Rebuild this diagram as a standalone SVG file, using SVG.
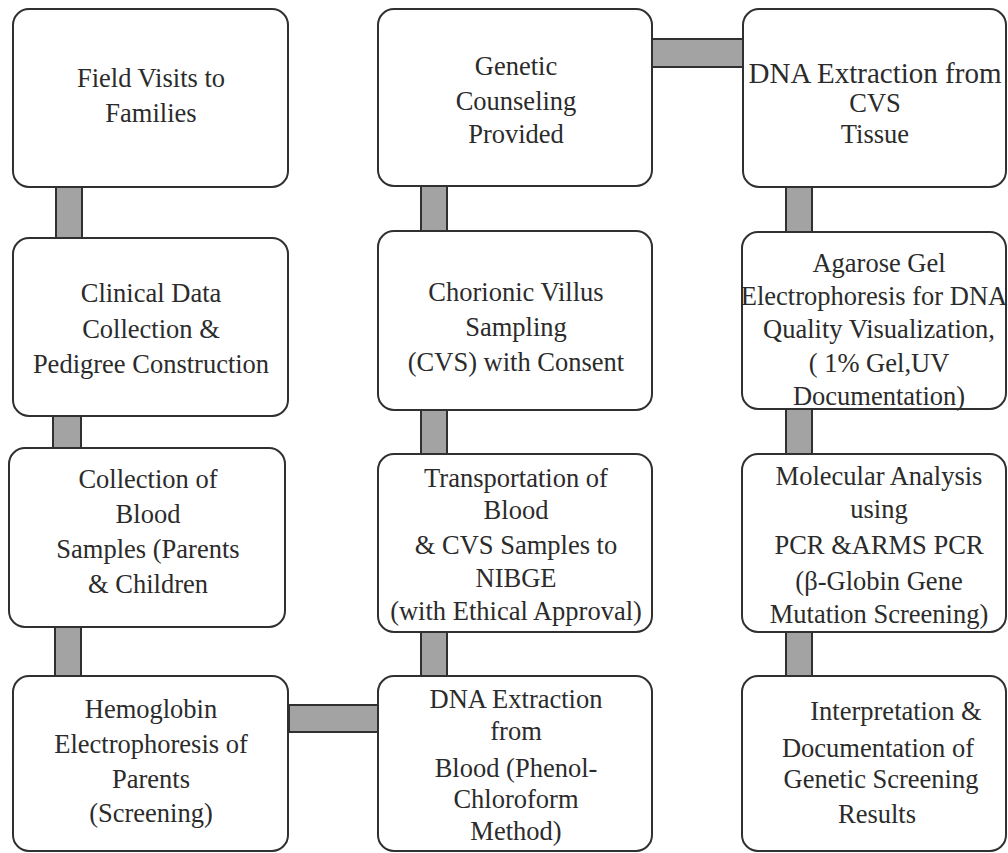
<svg xmlns="http://www.w3.org/2000/svg" width="1008" height="853" viewBox="0 0 1008 853">
<style>
.box{fill:#ffffff;stroke:#303030;stroke-width:2}
.conn{fill:#a3a3a3;stroke:#303030;stroke-width:2}
text{font-family:"Liberation Serif","Times New Roman",serif;font-size:26.5px;fill:#2b2b2b;text-anchor:middle}
</style>
<rect width="1008" height="853" fill="#ffffff"/>
<g id="connectors">
<rect class="conn" x="56" y="187" width="26" height="51"/>
<rect class="conn" x="53" y="416" width="28" height="32"/>
<rect class="conn" x="55" y="627" width="26" height="49"/>
<rect class="conn" x="289" y="705" width="89" height="27"/>
<rect class="conn" x="421" y="186" width="26" height="45"/>
<rect class="conn" x="421" y="410" width="26" height="44"/>
<rect class="conn" x="421" y="632" width="26" height="44"/>
<rect class="conn" x="652" y="39" width="91" height="28"/>
<rect class="conn" x="786" y="187" width="26" height="45"/>
<rect class="conn" x="786" y="409" width="26" height="45"/>
<rect class="conn" x="786" y="632" width="26" height="44"/>
</g>
<g id="n1">
<rect class="box" x="13" y="9" width="275" height="178" rx="16"/>
<text x="151" y="87">Field Visits to</text>
<text x="151" y="122">Families</text>
</g>
<g id="n2">
<rect class="box" x="13" y="238" width="275" height="178" rx="16"/>
<text x="151" y="302">Clinical Data</text>
<text x="151" y="338">Collection &amp;</text>
<text x="151" y="373">Pedigree Construction</text>
</g>
<g id="n3">
<rect class="box" x="9" y="448" width="276" height="179" rx="16"/>
<text x="148" y="488">Collection of</text>
<text x="148" y="523">Blood</text>
<text x="148" y="558">Samples (Parents</text>
<text x="148" y="593">&amp; Children</text>
</g>
<g id="n4">
<rect class="box" x="13" y="676" width="275" height="175" rx="16"/>
<text x="151" y="718">Hemoglobin</text>
<text x="151" y="753">Electrophoresis of</text>
<text x="151" y="788">Parents</text>
<text x="151" y="822">(Screening)</text>
</g>
<g id="n5">
<rect class="box" x="378" y="9" width="274" height="177" rx="16"/>
<text x="516" y="75">Genetic</text>
<text x="516" y="110">Counseling</text>
<text x="516" y="143">Provided</text>
</g>
<g id="n6">
<rect class="box" x="378" y="231" width="274" height="179" rx="16"/>
<text x="516" y="301">Chorionic Villus</text>
<text x="516" y="336">Sampling</text>
<text x="516" y="371">(CVS) with Consent</text>
</g>
<g id="n7">
<rect class="box" x="378" y="454" width="274" height="178" rx="16"/>
<text x="516" y="487">Transportation of</text>
<text x="516" y="519">Blood</text>
<text x="516" y="554">&amp; CVS Samples to</text>
<text x="516" y="587">NIBGE</text>
<text x="516" y="620">(with Ethical Approval)</text>
</g>
<g id="n8">
<rect class="box" x="378" y="676" width="274" height="175" rx="16"/>
<text x="516" y="708">DNA Extraction</text>
<text x="516" y="740">from</text>
<text x="516" y="777">Blood (Phenol-</text>
<text x="516" y="808">Chloroform</text>
<text x="516" y="840">Method)</text>
</g>
<g id="n9">
<rect class="box" x="743" y="9" width="263" height="178" rx="16"/>
<text x="875" y="83" style="font-size:29px">DNA Extraction from</text>
<text x="875" y="112">CVS</text>
<text x="875" y="143">Tissue</text>
</g>
<g id="n10">
<rect class="box" x="742" y="232" width="264" height="177" rx="16"/>
<text x="879" y="272">Agarose Gel</text>
<text x="874" y="305">Electrophoresis for DNA</text>
<text x="879" y="338">Quality Visualization,</text>
<text x="879" y="372">( 1% Gel,UV</text>
<text x="879" y="405">Documentation)</text>
</g>
<g id="n11">
<rect class="box" x="742" y="454" width="264" height="178" rx="16"/>
<text x="879" y="485">Molecular Analysis</text>
<text x="879" y="518">using</text>
<text x="879" y="554">PCR &amp;ARMS PCR</text>
<text x="879" y="590">(β-Globin Gene</text>
<text x="879" y="623">Mutation Screening)</text>
</g>
<g id="n12">
<rect class="box" x="742" y="676" width="264" height="175" rx="16"/>
<text x="896" y="720">Interpretation &amp;</text>
<text x="878" y="757">Documentation of</text>
<text x="881" y="788">Genetic Screening</text>
<text x="877" y="823">Results</text>
</g>
</svg>
